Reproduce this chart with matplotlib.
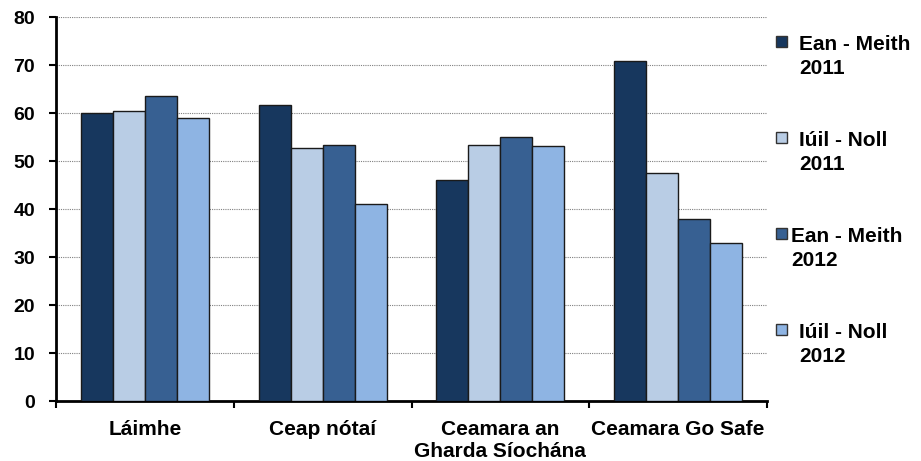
import matplotlib
matplotlib.use("Agg")
import matplotlib.pyplot as plt
import numpy as np
from matplotlib.patches import Rectangle

categories = ["Láimhe", "Ceap nótaí", "Ceamara an\nGharda Síochána", "Ceamara Go Safe"]
series_line1 = ["Ean - Meith", "Iúil - Noll", "Ean - Meith", "Iúil - Noll"]
series_line2 = ["2011", "2011", "2012", "2012"]
ean_2011 = [60.0, 61.8, 46.0, 71.0]
iuil_2011 = [60.5, 52.7, 53.5, 47.5]
ean_2012 = [63.6, 53.5, 55.0, 38.0]
iuil_2012 = [59.0, 41.0, 53.2, 33.0]
series = [ean_2011, iuil_2011, ean_2012, iuil_2012]
colors = ["#17375E", "#B9CDE5", "#376092", "#8EB4E3"]
yticks = [0, 10, 20, 30, 40, 50, 60, 70, 80]

plt.rcParams['font.family'] = ['Liberation Sans', 'DejaVu Sans']
plt.rcParams['font.weight'] = 'bold'

W, H = 921, 461
fig = plt.figure(figsize=(W / 100, H / 100), dpi=100)
ax = fig.add_axes([56 / W, 1 - 401 / H, (767 - 56) / W, (401 - 17.5) / H])

x = np.arange(len(categories))
w = 0.18
for i, (vals, c) in enumerate(zip(series, colors)):
    ax.bar(x + (i - 1.5) * w, vals, width=w, color=c, edgecolor="#1a1a1a",
           linewidth=1.0, zorder=3)

ax.set_xlim(-0.5, len(categories) - 0.5)
ax.set_ylim(0, 80)
ax.set_yticks(yticks)
ax.set_yticklabels([str(t) for t in yticks], fontsize=14, fontweight='bold')
ax.yaxis.grid(True, linestyle=(0, (1, 1)), color="#808080", linewidth=0.8, zorder=0)

ax.set_xticks(np.arange(len(categories) + 1) - 0.5)
ax.set_xticklabels([])
ax.set_xticks(x, minor=True)
ax.set_xticklabels(categories, minor=True, fontsize=15, fontweight='bold', linespacing=1.15)
ax.tick_params(axis='x', which='minor', length=0, pad=14)
ax.tick_params(axis='x', which='major', length=5, width=1.5, direction='out')
ax.tick_params(axis='y', length=5, width=1.5, direction='out', pad=10)

for s in ["top", "right"]:
    ax.spines[s].set_visible(False)
for s in ["left", "bottom"]:
    ax.spines[s].set_linewidth(2)
    ax.spines[s].set_color("black")

# legend drawn manually (Excel-like layout)
text_x = [799, 799, 791, 799]
for i, c in enumerate(colors):
    cy = 42 + 96 * i
    fig.patches.append(Rectangle((776 / W, 1 - (cy + 5.5) / H), 11 / W, 11 / H,
                                 transform=fig.transFigure, facecolor=c,
                                 edgecolor="#333333", linewidth=1.0))
    fig.text(text_x[i] / W, 1 - (50 + 96 * i) / H, series_line1[i], fontsize=15,
             fontweight='bold', va='baseline', ha='left')
    fig.text(text_x[i] / W, 1 - (74 + 96 * i) / H, series_line2[i],
             fontsize=15, fontweight='bold', va='baseline', ha='left')

fig.savefig("out.png", dpi=100)
